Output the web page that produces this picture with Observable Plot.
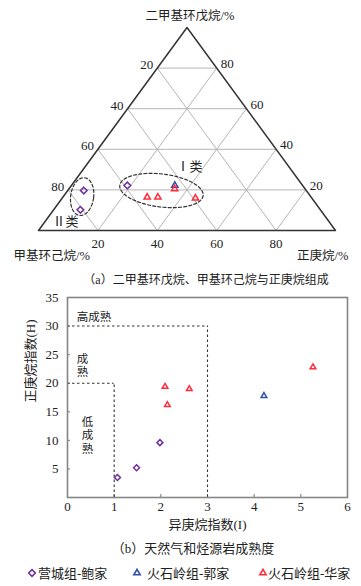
<!DOCTYPE html>
<html><head><meta charset="utf-8">
<script src="https://cdn.jsdelivr.net/npm/d3@7"></script>
<script src="https://cdn.jsdelivr.net/npm/@observablehq/plot@0.6"></script>
<style>
body{margin:0;background:#fff;}
#wrap{position:relative;width:361px;height:586px;overflow:hidden;background:#fff;font-family:"Liberation Serif","Noto Sans CJK SC",serif;color:#222;}
.lbl{position:absolute;white-space:nowrap;line-height:1;}
</style></head><body><div id="wrap"></div>
<script>
// ---------- series ----------
const seriesNames = ["营城组-鲍家", "火石岭组-郭家", "火石岭组-华家"];
const seriesColors = ["#7030A0", "#2F4FA8", "#FF2D3C"];
const seriesSymbols = ["diamond2", "triangle2", "triangle2"];

// ---------- (a) ternary composition, % ----------
const ternSeries = ["营城组-鲍家","营城组-鲍家","营城组-鲍家","火石岭组-郭家","火石岭组-华家","火石岭组-华家","火石岭组-华家","火石岭组-华家"];
const dmcp = [19.7, 10.2, 22.2, 22.2, 20.5, 16.4, 16.4, 15.9]; // 二甲基环戊烷
const mch  = [74.9, 80.8, 59.0, 43.0, 43.9, 55.2, 51.6, 39.2]; // 甲基环己烷
const nC7  = [ 5.4,  9.0, 18.8, 34.8, 35.6, 28.4, 32.0, 44.9]; // 正庚烷
const ternTicks = [20, 40, 60, 80];

// grouping ellipses (annotation): centre in ternary plane units, radii in px, tilt in degrees
const ellipseLabels = ["Ⅰ类", "Ⅱ类"];
const ellipseCx = [41.4, 14.7];
const ellipseCy = [19.7, 16.7];
const ellipseRx = [42, 11.5];
const ellipseRy = [16.5, 19];
const ellipseTilt = [7, 8];
const ellipseLabelX = [50.8, 9.1];
const ellipseLabelY = [31.5, 4.5];

// ---------- (b) maturity ----------
const heptIdx = { // 异庚烷指数 I
  "营城组-鲍家": [1.07, 1.48, 1.98],
  "火石岭组-郭家": [4.21],
  "火石岭组-华家": [2.09, 2.14, 2.61, 5.26]
};
const nHeptIdx = { // 正庚烷指数 H
  "营城组-鲍家": [3.5, 5.2, 9.6],
  "火石岭组-郭家": [17.8],
  "火石岭组-华家": [19.4, 16.2, 19.0, 22.8]
};
const xTicks = [0, 1, 2, 3, 4, 5, 6];
const yTicks = [5, 10, 15, 20, 25, 30, 35];
const zoneBounds = [{I: 1, H: 20}, {I: 3, H: 30}];
const zoneLabels = ["高成熟", "成\n熟", "低\n成\n熟"];
const zoneLabelI = [0.57, 0.32, 0.43];
const zoneLabelH = [31.7, 23.1, 10.9];

// ---------------------------------------------------------
const wrap = document.getElementById("wrap");
const FONT = '"Liberation Serif","Noto Sans CJK SC",serif';

const toXY = (a, c) => ({x: c + a / 2, y: a});
const tern = dmcp.map((a, i) => ({series: ternSeries[i], ...toXY(a, nC7[i])}));

// ternary grid links
const grid = [];
for (const v of ternTicks) {
  const a1 = toXY(v, 0), a2 = toXY(v, 100 - v);
  grid.push({x1: a1.x, y1: a1.y, x2: a2.x, y2: a2.y});
  const c1 = toXY(0, v), c2 = toXY(100 - v, v);
  grid.push({x1: c1.x, y1: c1.y, x2: c2.x, y2: c2.y});
  const b1 = toXY(0, 100 - v), b2 = toXY(100 - v, 0);
  grid.push({x1: b1.x, y1: b1.y, x2: b2.x, y2: b2.y});
}
const corners = [[0, 0], [0, 100], [100, 0], [0, 0]].map(([a, c]) => toXY(a, c));

const TX = [38, 335], TY = [230, 27];
const kx = (TX[1] - TX[0]) / 100, ky = (TY[0] - TY[1]) / 100;
const ellipses = [];
ellipseLabels.forEach((name, k) => {
  const phi = ellipseTilt[k] * Math.PI / 180;
  for (let t = 0; t < 72; t++) {
    const th = t / 72 * 2 * Math.PI;
    const dx = ellipseRx[k] * Math.cos(th) * Math.cos(phi) - ellipseRy[k] * Math.sin(th) * Math.sin(phi);
    const dy = ellipseRx[k] * Math.cos(th) * Math.sin(phi) + ellipseRy[k] * Math.sin(th) * Math.cos(phi);
    ellipses.push({name, x: ellipseCx[k] + dx / kx, y: ellipseCy[k] - dy / ky});
  }
});

const ternOrder = [...tern].sort((a, b) => seriesNames.indexOf(a.series) - seriesNames.indexOf(b.series));
const T = {fill: "#222", fontFamily: FONT};

const p1 = Plot.plot({
  width: 361, height: 262,
  marginTop: 0, marginBottom: 0, marginLeft: 0, marginRight: 0,
  x: {domain: [0, 100], range: TX, axis: null},
  y: {domain: [0, 100], range: TY, axis: null},
  symbol: {domain: seriesNames, range: seriesSymbols},
  color: {domain: seriesNames, range: seriesColors},
  style: {position: "absolute", left: "0px", top: "0px", background: "transparent", fontFamily: FONT, overflow: "visible"},
  marks: [
    Plot.link(grid, {x1: "x1", y1: "y1", x2: "x2", y2: "y2", stroke: "#b5b5b5", strokeWidth: 1}),
    Plot.line(corners, {x: "x", y: "y", stroke: "#333", strokeWidth: 1.5}),
    Plot.line(ellipses, {x: "x", y: "y", z: "name", curve: "linear-closed", stroke: "#333", strokeWidth: 1.2, strokeDasharray: "3,2.2"}),
    Plot.dot(ternOrder, {x: "x", y: "y", symbol: "series", stroke: "series", r: 3, strokeWidth: 1.5}),
    // tick labels
    Plot.text(ternTicks, {x: v => toXY(0, v).x, y: v => toXY(0, v).y, text: v => String(v), dy: 13, fontSize: 13, ...T}),
    Plot.text(ternTicks, {x: v => toXY(100 - v, 0).x, y: v => toXY(100 - v, 0).y, text: v => String(v), textAnchor: "end", dx: -4, dy: -3, fontSize: 13, ...T}),
    Plot.text(ternTicks, {x: v => toXY(v, 100 - v).x, y: v => toXY(v, 100 - v).y, text: v => String(v), textAnchor: "start", dx: 4, dy: -4, fontSize: 13, ...T}),
    // vertex titles
    Plot.text(["二甲基环戊烷/%"], {x: toXY(100, 0).x, y: toXY(100, 0).y, text: d => d, dx: 3, dy: -12, fontSize: 12.5, ...T}),
    Plot.text(["甲基环己烷/%"], {x: toXY(0, 0).x, y: toXY(0, 0).y, text: d => d, textAnchor: "start", dx: -25, dy: 25, fontSize: 12.5, ...T}),
    Plot.text(["正庚烷/%"], {x: toXY(0, 100).x, y: toXY(0, 100).y, text: d => d, textAnchor: "end", dx: 13, dy: 25, fontSize: 12.5, ...T}),
    Plot.text(ellipseLabels, {x: (d, i) => ellipseLabelX[i], y: (d, i) => ellipseLabelY[i], text: d => d, fontSize: 13, ...T})
  ]
});
wrap.appendChild(p1);

// ---------- plot (b) ----------
const pts = [];
for (const s of seriesNames) heptIdx[s].forEach((v, i) => pts.push({series: s, I: v, H: nHeptIdx[s][i]}));

const p2 = Plot.plot({
  width: 361, height: 250,
  marginTop: 12, marginLeft: 67, marginRight: 14, marginBottom: 38,
  x: {domain: [0, 6]},
  y: {domain: [0, 35]},
  symbol: {domain: seriesNames, range: seriesSymbols},
  color: {domain: seriesNames, range: seriesColors},
  style: {position: "absolute", left: "0px", top: "285px", background: "transparent", fontFamily: FONT, overflow: "visible"},
  marks: [
    Plot.axisX({ticks: xTicks, tickSize: -3, tickFormat: () => "", label: null, stroke: "#777"}),
    Plot.axisY({ticks: yTicks, tickSize: -3, tickFormat: () => "", label: null, stroke: "#777"}),
    Plot.ruleY(zoneBounds, {y: "H", x1: 0, x2: "I", stroke: "#333", strokeWidth: 1.1, strokeDasharray: "2.5,2.5"}),
    Plot.ruleX(zoneBounds, {x: "I", y1: 0, y2: "H", stroke: "#333", strokeWidth: 1.1, strokeDasharray: "2.5,2.5"}),
    Plot.frame({stroke: "#858585", strokeWidth: 1.6}),
    Plot.text(xTicks, {x: d => d, frameAnchor: "bottom", dy: 13, text: d => String(d), fontSize: 13, ...T}),
    Plot.text(yTicks, {y: d => d, frameAnchor: "left", dx: -9, textAnchor: "end", text: d => String(d), fontSize: 13, ...T}),
    Plot.text(zoneLabels, {x: (d, i) => zoneLabelI[i], y: (d, i) => zoneLabelH[i], text: d => d, fontSize: 11.5, lineHeight: 1.16, ...T}),
    Plot.dot(pts, {x: "I", y: "H", symbol: "series", stroke: "series", r: 2.7, strokeWidth: 1.5}),
    Plot.text(["异庚烷指数(I)"], {frameAnchor: "bottom", dy: 31, text: d => d, fontSize: 13, ...T}),
    Plot.text(["正庚烷指数(H)"], {frameAnchor: "left", rotate: -90, dx: -37, dy: 5, text: d => d, fontSize: 13, ...T})
  ]
});
wrap.appendChild(p2);

// ---------- captions ----------
function addLabel(text, x, y, anchor, size) {
  const d = document.createElement("div");
  d.className = "lbl";
  d.textContent = text;
  d.style.fontSize = size + "px";
  d.style.top = (y - size / 2) + "px";
  if (anchor === "middle") { d.style.left = x + "px"; d.style.transform = "translateX(-50%)"; }
  else d.style.left = x + "px";
  wrap.appendChild(d);
  return d;
}
addLabel("（a）二甲基环戊烷、甲基环己烷与正庚烷组成", 206, 280, "middle", 12);
addLabel("（b）天然气和烃源岩成熟度", 193, 548, "middle", 13);

// ---------- legend ----------
const legendSymX = [31.5, 137, 262.5];
const legendTextX = [38, 147, 268];
seriesNames.forEach((s, i) => {
  const sym = seriesSymbols[i] === "diamond2" ? d3.symbolDiamond2 : d3.symbolTriangle2;
  const ns = "http://www.w3.org/2000/svg";
  const svg = document.createElementNS(ns, "svg");
  svg.setAttribute("width", 12); svg.setAttribute("height", 12);
  svg.style.position = "absolute";
  svg.style.left = (legendSymX[i] - 6) + "px";
  svg.style.top = (573 - 6) + "px";
  const path = document.createElementNS(ns, "path");
  path.setAttribute("d", d3.symbol(sym, Math.PI * 3 * 3)());
  path.setAttribute("transform", "translate(6,6)");
  path.setAttribute("fill", "none");
  path.setAttribute("stroke", seriesColors[i]);
  path.setAttribute("stroke-width", 1.6);
  svg.appendChild(path);
  wrap.appendChild(svg);
  addLabel(s, legendTextX[i], 573, "start", 13);
});
</script></body></html>
